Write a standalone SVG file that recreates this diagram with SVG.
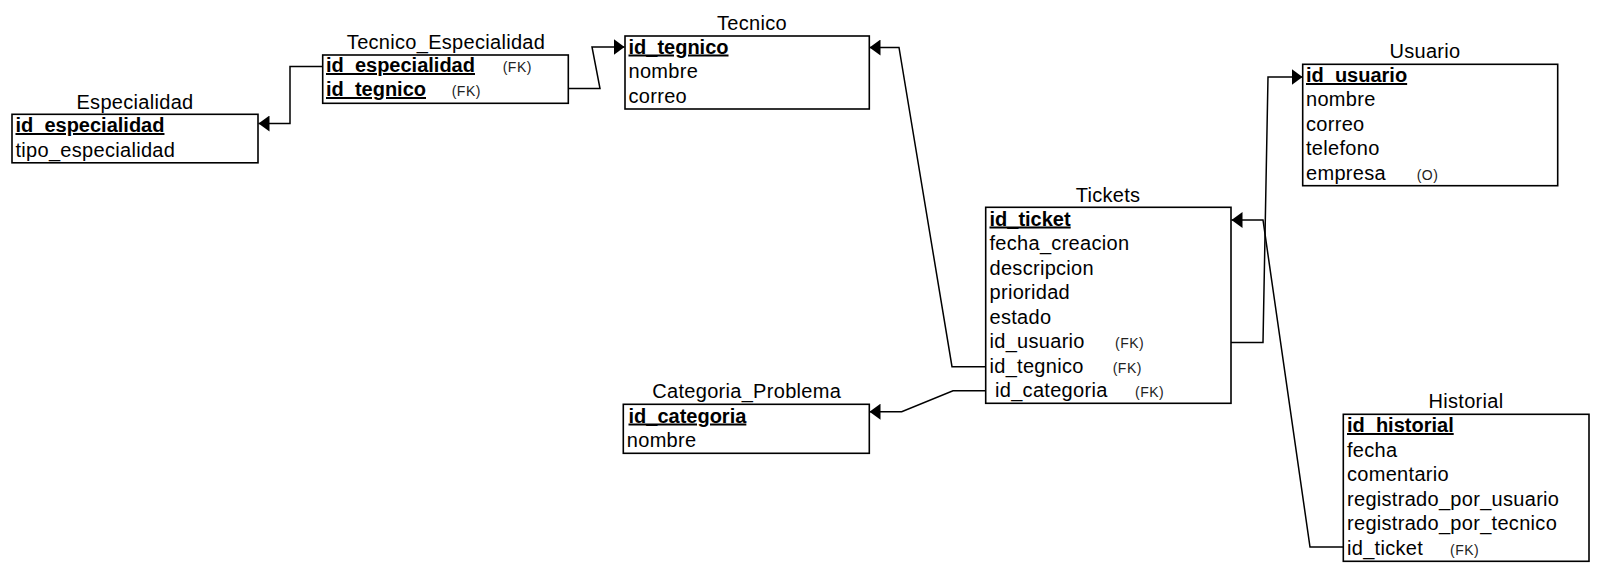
<svg xmlns="http://www.w3.org/2000/svg" width="1600" height="573" viewBox="0 0 1600 573">
<style>
.box{fill:#fff;stroke:#000;stroke-width:1.6}
text{font-family:"Liberation Sans",Arial,sans-serif;font-size:20px;fill:#000;letter-spacing:0.3px}
.title{text-anchor:middle}
.pk{font-weight:bold;text-decoration:underline;letter-spacing:0}
.fk{font-size:14px;fill:#222;letter-spacing:0.5px}
.con{fill:none;stroke:#000;stroke-width:1.5}
</style>
<defs>
<marker id="arr" markerUnits="userSpaceOnUse" markerWidth="12" markerHeight="16" refX="11" refY="8" orient="auto">
<path d="M0,0 L11,8 L0,16 z" fill="#000"/>
</marker>
</defs>
<rect width="1600" height="573" fill="#fff"/>
<g id="connectors">
<path class="con" d="M322.7,66.5 H290 V123.5 H258.5" marker-end="url(#arr)"/>
<path class="con" d="M568.3,88.5 H600 L592,47 H624.5" marker-end="url(#arr)"/>
<path class="con" d="M985.7,366.7 H952 L899,47.5 H869.5" marker-end="url(#arr)"/>
<path class="con" d="M985.7,390.7 H953 L901.7,411.7 H869.5" marker-end="url(#arr)"/>
<path class="con" d="M1231,342.5 H1263 L1268,77 H1302.5" marker-end="url(#arr)"/>
<path class="con" d="M1343.3,547 H1310 L1263,220 H1231.5" marker-end="url(#arr)"/>
</g>
<g id="especialidad">
<text class="title" x="135" y="108.5">Especialidad</text>
<rect class="box" x="12" y="114.3" width="246" height="48.5"/>
<text class="pk" x="15.5" y="132">id_especialidad</text>
<text x="15.5" y="156.5">tipo_especialidad</text>
</g>
<g id="tecnico_especialidad">
<text class="title" x="446" y="49">Tecnico_Especialidad</text>
<rect class="box" x="322.7" y="55" width="245.6" height="48.3"/>
<text class="pk" x="326" y="72">id_especialidad</text>
<text class="fk" x="502.7" y="72">(FK)</text>
<text class="pk" x="326" y="96">id_tegnico</text>
<text class="fk" x="451.7" y="96">(FK)</text>
</g>
<g id="tecnico">
<text class="title" x="752" y="29.5">Tecnico</text>
<rect class="box" x="625" y="36" width="244.3" height="73"/>
<text class="pk" x="628.5" y="53.5">id_tegnico</text>
<text x="628.5" y="78">nombre</text>
<text x="628.5" y="102.5">correo</text>
</g>
<g id="usuario">
<text class="title" x="1425" y="57.5">Usuario</text>
<rect class="box" x="1302.7" y="64.3" width="255" height="121.4"/>
<text class="pk" x="1306" y="82">id_usuario</text>
<text x="1306" y="106">nombre</text>
<text x="1306" y="130.5">correo</text>
<text x="1306" y="155">telefono</text>
<text x="1306" y="179.5">empresa</text>
<text class="fk" x="1416.7" y="179.5">(O)</text>
</g>
<g id="tickets">
<text class="title" x="1108" y="202">Tickets</text>
<rect class="box" x="985.7" y="207.3" width="245.3" height="196"/>
<text class="pk" x="989.5" y="225.5">id_ticket</text>
<text x="989.5" y="250">fecha_creacion</text>
<text x="989.5" y="274.5">descripcion</text>
<text x="989.5" y="299">prioridad</text>
<text x="989.5" y="323.5">estado</text>
<text x="989.5" y="348">id_usuario</text>
<text class="fk" x="1115" y="348">(FK)</text>
<text x="989.5" y="372.5">id_tegnico</text>
<text class="fk" x="1112.7" y="372.5">(FK)</text>
<text x="995" y="397">id_categoria</text>
<text class="fk" x="1135" y="397">(FK)</text>
</g>
<g id="categoria_problema">
<text class="title" x="746.7" y="398">Categoria_Problema</text>
<rect class="box" x="623.3" y="404.3" width="246" height="49"/>
<text class="pk" x="628.5" y="422.5">id_categoria</text>
<text x="626.8" y="447">nombre</text>
</g>
<g id="historial">
<text class="title" x="1466" y="408">Historial</text>
<rect class="box" x="1343.3" y="414.3" width="245.7" height="147"/>
<text class="pk" x="1347" y="432">id_historial</text>
<text x="1347" y="456.5">fecha</text>
<text x="1347" y="481">comentario</text>
<text x="1347" y="505.5">registrado_por_usuario</text>
<text x="1347" y="530">registrado_por_tecnico</text>
<text x="1347" y="554.5">id_ticket</text>
<text class="fk" x="1450" y="554.5">(FK)</text>
</g>
</svg>
